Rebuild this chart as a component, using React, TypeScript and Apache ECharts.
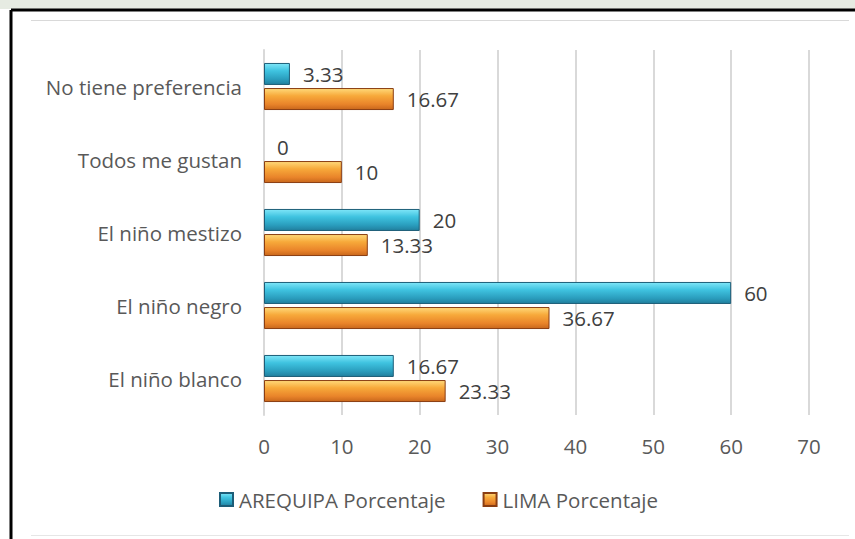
import React, { useEffect, useRef } from "react";
import * as echarts from "echarts";

const categories = ["El niño blanco", "El niño negro", "El niño mestizo", "Todos me gustan", "No tiene preferencia"];
const arequipa = [16.67, 60, 20, 0, 3.33];
const lima = [23.33, 36.67, 13.33, 10, 16.67];
const seriesNames = ["AREQUIPA Porcentaje", "LIMA Porcentaje"];

const FONT = "'Open Sans', 'Noto Sans', sans-serif";
const FS = 20.5;

const cyan = new echarts.graphic.LinearGradient(0, 0, 0, 1, [
  { offset: 0, color: "#7fe6f8" },
  { offset: 0.35, color: "#3fc3e0" },
  { offset: 0.75, color: "#2a9dbd" },
  { offset: 1, color: "#217f9e" },
]);
const orange = new echarts.graphic.LinearGradient(0, 0, 0, 1, [
  { offset: 0, color: "#ffd97a" },
  { offset: 0.35, color: "#f7a93a" },
  { offset: 0.75, color: "#e9842a" },
  { offset: 1, color: "#c8671c" },
]);

export default function App() {
  const ref = useRef<HTMLDivElement>(null);
  useEffect(() => {
    const chart = echarts.init(ref.current!, null, { renderer: "svg" });
    const label = {
      show: true,
      position: "right" as const,
      distance: 13,
      color: "#404040",
      fontSize: FS,
      fontFamily: FONT,
    };
    const toData = (arr: number[]) =>
      arr.map((v) =>
        v === 0 ? { value: v, itemStyle: { borderWidth: 0, color: "rgba(0,0,0,0)" } } : v
      );
    chart.setOption({
      animation: false,
      backgroundColor: "#ffffff",
      graphic: [
        { type: "rect", shape: { x: 0, y: 0, width: 855, height: 9 }, style: { fill: "#e6ebe2" }, z: -1 },
        { type: "line", shape: { x1: 11, y1: 10, x2: 855, y2: 10 }, style: { stroke: "#000", lineWidth: 3 } },
        { type: "line", shape: { x1: 11, y1: 10, x2: 11, y2: 539 }, style: { stroke: "#000", lineWidth: 3 } },
        { type: "line", shape: { x1: 31, y1: 20.5, x2: 849, y2: 20.5 }, style: { stroke: "#d9d9d9", lineWidth: 1 } },
        { type: "line", shape: { x1: 31, y1: 535.5, x2: 849, y2: 535.5 }, style: { stroke: "#e6e6e6", lineWidth: 1 } },
      ],
      legend: {
        left: 214,
        top: 484,
        icon: "rect",
        itemWidth: 13,
        itemHeight: 13,
        itemGap: 37,
        textStyle: { color: "#595959", fontSize: FS, fontFamily: FONT, padding: [0, 0, 0, 1] },
        data: seriesNames,
      },
      grid: { left: 264, right: 46, top: 50, bottom: 124, containLabel: false },
      xAxis: {
        type: "value",
        min: 0,
        max: 70,
        interval: 10,
        axisLine: { show: false },
        axisTick: { show: false },
        axisLabel: { color: "#595959", fontSize: FS, fontFamily: FONT, margin: 20 },
        splitLine: { lineStyle: { color: "#d9d9d9", width: 2 } },
      },
      yAxis: {
        type: "category",
        data: categories,
        axisLine: { lineStyle: { color: "#d9d9d9", width: 2 } },
        axisTick: { show: false },
        axisLabel: { color: "#595959", fontSize: FS, fontFamily: FONT, margin: 22 },
      },
      series: [
        {
          name: seriesNames[0],
          type: "bar",
          data: toData(arequipa),
          barWidth: 22,
          barGap: "14%",
          itemStyle: { color: cyan, borderColor: "#1d5d78", borderWidth: 1 },
          label,
        },
        {
          name: seriesNames[1],
          type: "bar",
          data: toData(lima),
          barWidth: 22,
          itemStyle: { color: orange, borderColor: "#8a3d12", borderWidth: 1 },
          label,
        },
      ],
    });
    return () => chart.dispose();
  }, []);
  return (
    <div
      ref={ref}
      style={{ position: "absolute", left: 0, top: 0, width: 855, height: 539 }}
    />
  );
}
